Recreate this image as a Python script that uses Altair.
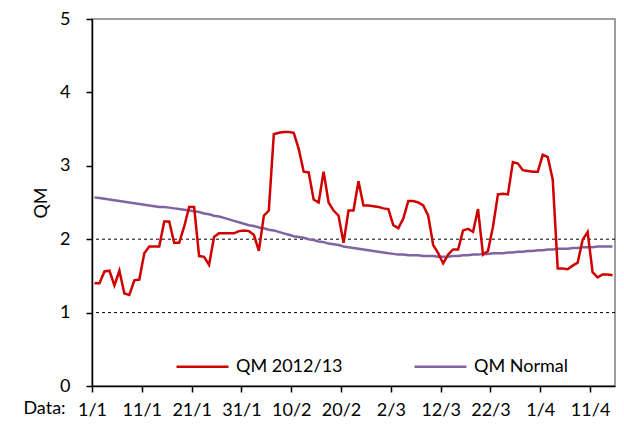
import pandas as pd
import altair as alt

RED = "#D00000"
PURPLE = "#8064A2"
TEXT_COLOR = "#000000"
FONT = "Lato"

# x axis: day index from 1 January, labelled every 10 days
tick_days = [0, 10, 20, 30, 40, 50, 60, 70, 80, 90, 100]
tick_labels = ["1/1", "11/1", "21/1", "31/1", "10/2", "20/2",
               "2/3", "12/3", "22/3", "1/4", "11/4"]
qm_ticks = [0, 1, 2, 3, 4, 5]
threshold_levels = [1, 2]
series_names = ["QM 2012/13", "QM Normal"]

qm_2012 = [
    1.40, 1.40, 1.56, 1.57, 1.37, 1.57, 1.26, 1.24, 1.44, 1.45,
    1.81, 1.90, 1.90, 1.90, 2.24, 2.24, 1.95, 1.95, 2.17, 2.44,
    2.44, 1.77, 1.76, 1.65, 2.03, 2.08, 2.08, 2.08, 2.08, 2.11,
    2.12, 2.11, 2.06, 1.84, 2.32, 2.39, 3.43, 3.45, 3.46, 3.46,
    3.45, 3.23, 2.92, 2.91, 2.54, 2.50, 2.92, 2.50, 2.39, 2.32,
    1.95, 2.39, 2.39, 2.79, 2.46, 2.46, 2.45, 2.44, 2.42, 2.41,
    2.19, 2.15, 2.28, 2.52, 2.52, 2.50, 2.46, 2.32, 1.92, 1.81,
    1.67, 1.79, 1.86, 1.86, 2.12, 2.14, 2.10, 2.41, 1.79, 1.84,
    2.17, 2.61, 2.62, 2.61, 3.05, 3.03, 2.94, 2.93, 2.92, 2.92,
    3.15, 3.12, 2.81, 1.60, 1.60, 1.59, 1.64, 1.68, 1.99, 2.10,
    1.55, 1.48, 1.52, 1.52, 1.51,
]

qm_normal = [
    2.57, 2.56, 2.55, 2.54, 2.53, 2.52, 2.51, 2.50, 2.49, 2.48,
    2.47, 2.46, 2.45, 2.44, 2.44, 2.43, 2.42, 2.41, 2.40, 2.39,
    2.38, 2.37, 2.35, 2.34, 2.32, 2.31, 2.29, 2.27, 2.25, 2.23,
    2.21, 2.19, 2.18, 2.16, 2.15, 2.13, 2.12, 2.10, 2.08, 2.06,
    2.04, 2.03, 2.02, 2.00, 1.99, 1.97, 1.96, 1.94, 1.93, 1.92,
    1.90, 1.89, 1.88, 1.87, 1.86, 1.85, 1.84, 1.83, 1.82, 1.81,
    1.80, 1.79, 1.79, 1.78, 1.78, 1.78, 1.77, 1.77, 1.77, 1.76,
    1.76, 1.76, 1.77, 1.77, 1.78, 1.78, 1.79, 1.79, 1.80, 1.80,
    1.81, 1.81, 1.81, 1.82, 1.82, 1.83, 1.83, 1.84, 1.84, 1.85,
    1.85, 1.86, 1.86, 1.87, 1.87, 1.87, 1.88, 1.88, 1.89, 1.89,
    1.89, 1.90, 1.90, 1.90, 1.90,
]

days = list(range(len(qm_2012)))
red_df = pd.DataFrame({"day": days, "qm": qm_2012, "series": series_names[0]})
normal_df = pd.DataFrame({"day": days, "qm": qm_normal, "series": series_names[1]})
level_df = pd.DataFrame({"level": threshold_levels})

label_expr = "[{}][indexof([{}], datum.value)]".format(
    ",".join(f"'{t}'" for t in tick_labels),
    ",".join(str(d) for d in tick_days),
)

PLOT_W, PLOT_H = 523, 367

x_scale = alt.Scale(domain=[0, 105], nice=False, zero=False)
y_scale = alt.Scale(domain=[0, 5], nice=False)
color_scale = alt.Scale(domain=series_names, range=[RED, PURPLE])

x_enc = alt.X(
    "x:Q", scale=x_scale,
    axis=alt.Axis(
        values=tick_days, labelExpr=label_expr, grid=False,
        title="Data:", titleX=-48, titleY=27, titleAlign="center",
        titleBaseline="alphabetic", titleFontWeight="normal",
        tickSize=6, labelPadding=9, labelFlush=False,
    ),
)
y_enc = alt.Y(
    "qm:Q", scale=y_scale,
    axis=alt.Axis(
        values=qm_ticks, format="d", grid=False, title="QM",
        titleFontWeight="normal", titleX=-46, titleY=PLOT_H / 2,
        titleAlign="center", titleBaseline="alphabetic",
        tickSize=6, labelPadding=16,
    ),
)
legend = alt.Legend(
    title=None, orient="none", direction="horizontal",
    legendX=83, legendY=320, symbolType="stroke", symbolSize=2700,
    symbolStrokeWidth=2.5, labelFontSize=18, labelOffset=6,
    columnPadding=66, padding=0, labelLimit=300,
)

# ── reference lines at 1 and 2 ────────────────────────────────────────
levels = (
    alt.Chart(level_df)
    .mark_rule(color="#000000", strokeDash=[3, 3], strokeWidth=1)
    .encode(y=alt.Y("level:Q", scale=y_scale))
)

normal_line = (
    alt.Chart(normal_df)
    .transform_calculate(x="datum.day + 0.5")
    .mark_line(strokeWidth=2.5)
    .encode(x=x_enc, y=y_enc,
            color=alt.Color("series:N", scale=color_scale, legend=legend))
)

red_line = (
    alt.Chart(red_df)
    .transform_calculate(x="datum.day + 0.5")
    .mark_line(strokeWidth=2.5)
    .encode(x=x_enc, y=y_enc,
            color=alt.Color("series:N", scale=color_scale, legend=legend))
)

chart = (
    (levels + normal_line + red_line)
    .properties(
        width=PLOT_W, height=PLOT_H,
        autosize=alt.AutoSizeParams(type="none"),
        padding={"left": 84, "top": 11, "right": 1, "bottom": 33},
    )
    .configure(font=FONT, background="white")
    .configure_view(stroke="#7f7f7f", strokeWidth=1.5)
    .configure_axis(
        labelFont=FONT, titleFont=FONT, labelFontSize=18, titleFontSize=18,
        labelColor=TEXT_COLOR, titleColor=TEXT_COLOR,
        domainColor="#000000", tickColor="#000000", domainWidth=1.5, tickWidth=1.5,
    )
    .configure_legend(labelFont=FONT, labelColor=TEXT_COLOR)
)

chart.save("out.html", embed_options={"renderer": "svg", "actions": False})
